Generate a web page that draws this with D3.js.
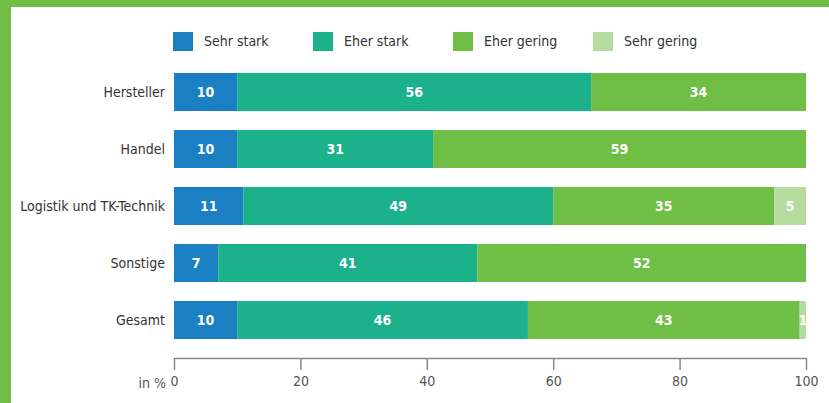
<!DOCTYPE html>
<html><head><meta charset="utf-8">
<script src="https://cdn.jsdelivr.net/npm/d3@7"></script>
<style>
html,body{margin:0;padding:0;background:#fff;}
svg{display:block;}
text{font-family:"DejaVu Sans Condensed","DejaVu Sans",sans-serif;font-stretch:condensed;}
</style></head>
<body>
<script>
const categories = ["Hersteller","Handel","Logistik und TK-Technik","Sonstige","Gesamt"];
const seriesNames = ["Sehr stark","Eher stark","Eher gering","Sehr gering"];
const sehrStark  = [10,10,11,7,10];
const eherStark  = [56,31,49,41,46];
const eherGering = [34,59,35,52,43];
const sehrGering = [0,0,5,0,1];
const tickValues = [0,20,40,60,80,100];
const colors = ["#1b7fc4","#1ab18b","#6fbe45","#b6dca0"];

const W=829,H=403;
const svg=d3.select("body").append("svg").attr("width",W).attr("height",H);
svg.append("rect").attr("width",W).attr("height",H).attr("fill","#fff");
// border
svg.append("rect").attr("x",0).attr("y",0).attr("width",W).attr("height",7).attr("fill","#70be45");
svg.append("rect").attr("x",0).attr("y",0).attr("width",11).attr("height",H).attr("fill","#70be45");

const x=d3.scaleLinear().domain([0,100]).range([174,806]);
const y=d3.scaleBand().domain(categories).range([63.5,348.5]).paddingInner(0.333).paddingOuter(0.1665);

const allSeries=[sehrStark,eherStark,eherGering,sehrGering];
const rows=categories.map((c,i)=>{
  const o={cat:c};
  seriesNames.forEach((s,j)=>o[s]=allSeries[j][i]);
  return o;
});
const stacked=d3.stack().keys(seriesNames)(rows);

const g=svg.append("g");
stacked.forEach((layer,j)=>{
  const lg=g.append("g");
  lg.selectAll("rect").data(layer).join("rect")
    .attr("x",d=>x(d[0])).attr("y",d=>y(d.data.cat))
    .attr("width",d=>x(d[1])-x(d[0])).attr("height",y.bandwidth())
    .attr("fill",colors[j]);
  lg.selectAll("text").data(layer.filter(d=>d[1]-d[0]>0)).join("text")
    .attr("x",d=>(x(d[0])+x(d[1]))/2).attr("y",d=>y(d.data.cat)+y.bandwidth()/2)
    .attr("dy","0.35em").attr("text-anchor","middle")
    .attr("fill","#fff").attr("font-weight","bold").attr("font-size",14)
    .text(d=>d[1]-d[0]);
});

// category labels
svg.append("g").selectAll("text").data(categories).join("text")
  .attr("x",165).attr("y",d=>y(d)+y.bandwidth()/2).attr("dy","0.35em")
  .attr("text-anchor","end").attr("font-size",14).attr("fill","#333")
  .text(d=>d);

// axis
const axis=svg.append("g").attr("transform","translate(0,358)")
  .call(d3.axisBottom(x).tickValues(tickValues).tickSizeInner(12).tickSizeOuter(0).tickPadding(6));
axis.select(".domain").attr("stroke","#888").attr("stroke-width",1.5);
axis.selectAll(".tick line").attr("stroke","#888").attr("stroke-width",1.5).attr("y1",0);
axis.selectAll(".tick text").attr("font-size",14).attr("fill","#555").attr("font-family",null);
svg.append("text").attr("x",166).attr("y",383).attr("dy","0.35em").attr("text-anchor","end")
  .attr("font-size",14).attr("fill","#555").text("in %");

// legend
const lg=svg.append("g");
seriesNames.forEach((s,j)=>{
  const lx=173+j*140;
  lg.append("rect").attr("x",lx).attr("y",32).attr("width",20).attr("height",19).attr("fill",colors[j]);
  lg.append("text").attr("x",lx+31).attr("y",41.5).attr("dy","0.35em").attr("font-size",14).attr("fill","#333").text(s);
});
</script>
</body></html>
